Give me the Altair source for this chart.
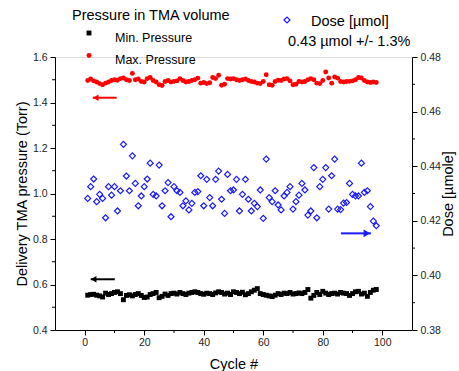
import altair as alt
import pandas as pd

# ---------------- data ----------------
cycles = list(range(1, 99))

max_pressure = [
    1.497, 1.503, 1.495, 1.490, 1.483, 1.478, 1.485, 1.490, 1.497, 1.500,
    1.498, 1.505, 1.508, 1.500, 1.497, 1.528, 1.500, 1.503, 1.492, 1.490,
    1.505, 1.510, 1.497, 1.490, 1.478, 1.475, 1.492, 1.497, 1.490, 1.493,
    1.495, 1.505, 1.497, 1.490, 1.492, 1.497, 1.500, 1.507, 1.485, 1.488,
    1.483, 1.487, 1.510, 1.505, 1.520, 1.476, 1.480, 1.505, 1.503, 1.505,
    1.500, 1.497, 1.500, 1.503, 1.497, 1.492, 1.490, 1.485, 1.483, 1.492,
    1.522, 1.478, 1.476, 1.492, 1.498, 1.497, 1.503, 1.505, 1.495, 1.478,
    1.480, 1.492, 1.490, 1.492, 1.500, 1.505, 1.500, 1.485, 1.483, 1.497,
    1.534, 1.508, 1.485, 1.512, 1.507, 1.492, 1.490, 1.492, 1.493, 1.495,
    1.500, 1.510, 1.508, 1.497, 1.490, 1.488, 1.490, 1.488,
]

min_pressure = [
    0.553, 0.556, 0.557, 0.553, 0.550, 0.545, 0.562, 0.556, 0.560, 0.565,
    0.568, 0.560, 0.533, 0.552, 0.555, 0.550, 0.556, 0.560, 0.552, 0.543,
    0.545, 0.556, 0.560, 0.565, 0.542, 0.548, 0.558, 0.552, 0.560, 0.562,
    0.558, 0.565, 0.560, 0.556, 0.562, 0.565, 0.568, 0.565, 0.560, 0.557,
    0.562, 0.560, 0.556, 0.563, 0.568, 0.565, 0.558, 0.562, 0.556, 0.568,
    0.565, 0.560, 0.566, 0.555, 0.560, 0.568, 0.575, 0.582, 0.560, 0.556,
    0.553, 0.550, 0.547, 0.553, 0.560, 0.556, 0.562, 0.560, 0.565, 0.558,
    0.560, 0.563, 0.560, 0.565, 0.578, 0.540, 0.552, 0.565, 0.556, 0.570,
    0.562, 0.556, 0.560, 0.562, 0.558, 0.565, 0.562, 0.560, 0.552, 0.560,
    0.568, 0.570, 0.558, 0.562, 0.548, 0.565, 0.575, 0.578,
]

dose = [
    0.4282, 0.4325, 0.4353, 0.4270, 0.4297, 0.4282, 0.4211, 0.4325, 0.4294, 0.4325,
    0.4236, 0.4310, 0.4480, 0.4364, 0.4310, 0.4438, 0.4337, 0.4255, 0.4291, 0.4325,
    0.4353, 0.4411, 0.4297, 0.4291, 0.4404, 0.4255, 0.4310, 0.4340, 0.4215, 0.4325,
    0.4310, 0.4304, 0.4255, 0.4273, 0.4240, 0.4264, 0.4304, 0.4307, 0.4365, 0.4255,
    0.4352, 0.4285, 0.4255, 0.4352, 0.4382, 0.4279, 0.4227, 0.4370, 0.4310, 0.4313,
    0.4352, 0.4236, 0.4297, 0.4352, 0.4279, 0.4236, 0.4264, 0.4252, 0.4313, 0.4209,
    0.4426, 0.4285, 0.4270, 0.4310, 0.4258, 0.4240, 0.4291, 0.4304, 0.4325, 0.4243,
    0.4270, 0.4294, 0.4337, 0.4313, 0.4221, 0.4236, 0.4395, 0.4211, 0.4325, 0.4352,
    0.4395, 0.4243, 0.4365, 0.4426, 0.4243, 0.4241, 0.4265, 0.4267, 0.4337, 0.4297,
    0.4291, 0.4291, 0.4411, 0.4304, 0.4310, 0.4252, 0.4199, 0.4182,
]

x_ticks = [0, 20, 40, 60, 80, 100]
x_minor = [10, 30, 50, 70, 90]
left_ticks = [0.4, 0.6, 0.8, 1.0, 1.2, 1.4, 1.6]
left_minor = [0.5, 0.7, 0.9, 1.1, 1.3, 1.5]
right_ticks = [0.38, 0.40, 0.42, 0.44, 0.46, 0.48]
right_minor = [0.39, 0.41, 0.43, 0.45, 0.47]

# arrows: tail cycle, head cycle, value
red_arrow = {"tail": [10.7], "head": [2.7], "v": [1.421]}
black_arrow = {"tail": [10.1], "head": [2.0], "v": [0.623]}
blue_arrow = {"tail": [86.1], "head": [96.2], "v": [0.4154]}

# ---------------- chart ----------------
FONT = "Liberation Sans"
xs = alt.Scale(domain=[-10, 110], nice=False, zero=False)
ls = alt.Scale(domain=[0.4, 1.6], nice=False, zero=False)
rs = alt.Scale(domain=[0.38, 0.48], nice=False, zero=False)

axis_common = dict(
    grid=False, domainColor="black", tickColor="black", tickSize=5,
    labelFont=FONT, labelFontSize=10.5, labelColor="#222222",
    titleFont=FONT, titleFontSize=14.5, titleFontWeight="normal", titleColor="black",
)

xaxis = alt.Axis(values=x_ticks, format="d", title="Cycle #", labelPadding=2,
                 titlePadding=10, **axis_common)
laxis = alt.Axis(orient="left", values=left_ticks, format=".1f",
                 title="Delivery TMA pressure (Torr)", labelPadding=3,
                 titlePadding=3, **axis_common)
raxis = alt.Axis(orient="right", values=right_ticks, format=".2f",
                 title="Dose [\u00b5mole]", labelPadding=3, titlePadding=1,
                 titleAngle=270, titleBaseline="top", **axis_common)

df = pd.DataFrame({"cycle": cycles, "maxp": max_pressure,
                   "minp": min_pressure, "dose": dose})
base = alt.Chart(df)

max_layer = base.mark_point(shape="circle", filled=True, size=24,
                            color="#ff0000", opacity=1).encode(
    x=alt.X("cycle:Q", scale=xs, axis=xaxis),
    y=alt.Y("maxp:Q", scale=ls, axis=laxis),
)
min_layer = base.mark_point(shape="square", filled=True, size=24,
                            color="black", opacity=1).encode(
    x=alt.X("cycle:Q", scale=xs, axis=xaxis),
    y=alt.Y("minp:Q", scale=ls, axis=None),
)
dose_layer = base.mark_point(shape="diamond", filled=False, size=36,
                             color="#1a1aff", strokeWidth=1.2, opacity=1).encode(
    x=alt.X("cycle:Q", scale=xs, axis=xaxis),
    y=alt.Y("dose:Q", scale=rs, axis=raxis),
)

# minor ticks
lminor = alt.Chart(pd.DataFrame({"v": left_minor})).mark_rule(
    color="black", strokeWidth=1).encode(
    x=alt.value(-3), x2=alt.value(0), y=alt.Y("v:Q", scale=ls, axis=None))
rminor = alt.Chart(pd.DataFrame({"v": right_minor})).mark_rule(
    color="black", strokeWidth=1).encode(
    x=alt.value(357), x2=alt.value(360), y=alt.Y("v:Q", scale=rs, axis=None))
xminor = alt.Chart(pd.DataFrame({"v": x_minor})).mark_rule(
    color="black", strokeWidth=1).encode(
    x=alt.X("v:Q", scale=xs, axis=xaxis), y=alt.value(273), y2=alt.value(276))


def arrow(d, scale, color, shape, off, size):
    a = pd.DataFrame(d)
    shaft = alt.Chart(a).mark_rule(color=color, strokeWidth=2).encode(
        x=alt.X("tail:Q", scale=xs, axis=xaxis),
        x2="head:Q",
        y=alt.Y("v:Q", scale=scale, axis=None),
    )
    head = alt.Chart(a).mark_point(shape=shape, filled=True, size=size,
                                   color=color, opacity=1, xOffset=off).encode(
        x=alt.X("head:Q", scale=xs, axis=xaxis),
        y=alt.Y("v:Q", scale=scale, axis=None),
    )
    return [shaft, head]


arrows = (arrow(red_arrow, ls, "#ff0000", "triangle-left", 3, 40)
          + arrow(black_arrow, ls, "black", "triangle-left", 3, 40)
          + arrow(blue_arrow, rs, "#1a1aff", "triangle-right", -4, 60))


def label(text, x, y, size):
    return alt.Chart(pd.DataFrame({"t": [text]})).mark_text(
        align="left", baseline="middle", font=FONT, fontSize=size,
        color="black").encode(text="t:N", x=alt.value(x), y=alt.value(y))


def marker(shape, filled, color, size, x, y, sw=1):
    return alt.Chart(pd.DataFrame({"t": [shape]})).mark_point(
        shape=shape, filled=filled, color=color, size=size, opacity=1,
        strokeWidth=sw).encode(x=alt.value(x), y=alt.value(y))


legend = [
    label("Pressure in TMA volume", 17, -41, 14.5),
    marker("square", True, "black", 24, 34, -24),
    label("Min. Pressure", 60, -19, 12.5),
    marker("circle", True, "#ff0000", 24, 34, -1.5),
    label("Max. Pressure", 60, 3, 12.5),
    marker("diamond", False, "#1a1aff", 36, 232, -37, 1.2),
    label("Dose [\u00b5mol]", 256, -35, 14.5),
    label("0.43 \u00b5mol +/- 1.3%", 233, -15, 14.5),
]

chart = alt.layer(
    max_layer, min_layer, dose_layer, lminor, rminor, xminor, *arrows, *legend
).resolve_scale(y="independent").properties(
    width=357, height=273,
    autosize=alt.AutoSizeParams(type="none"),
    padding={"left": 55, "top": 57, "right": 47, "bottom": 41},
).configure_view(stroke=None).configure(background="white")

chart.save("out.html", embed_options={"renderer": "svg", "actions": False})
